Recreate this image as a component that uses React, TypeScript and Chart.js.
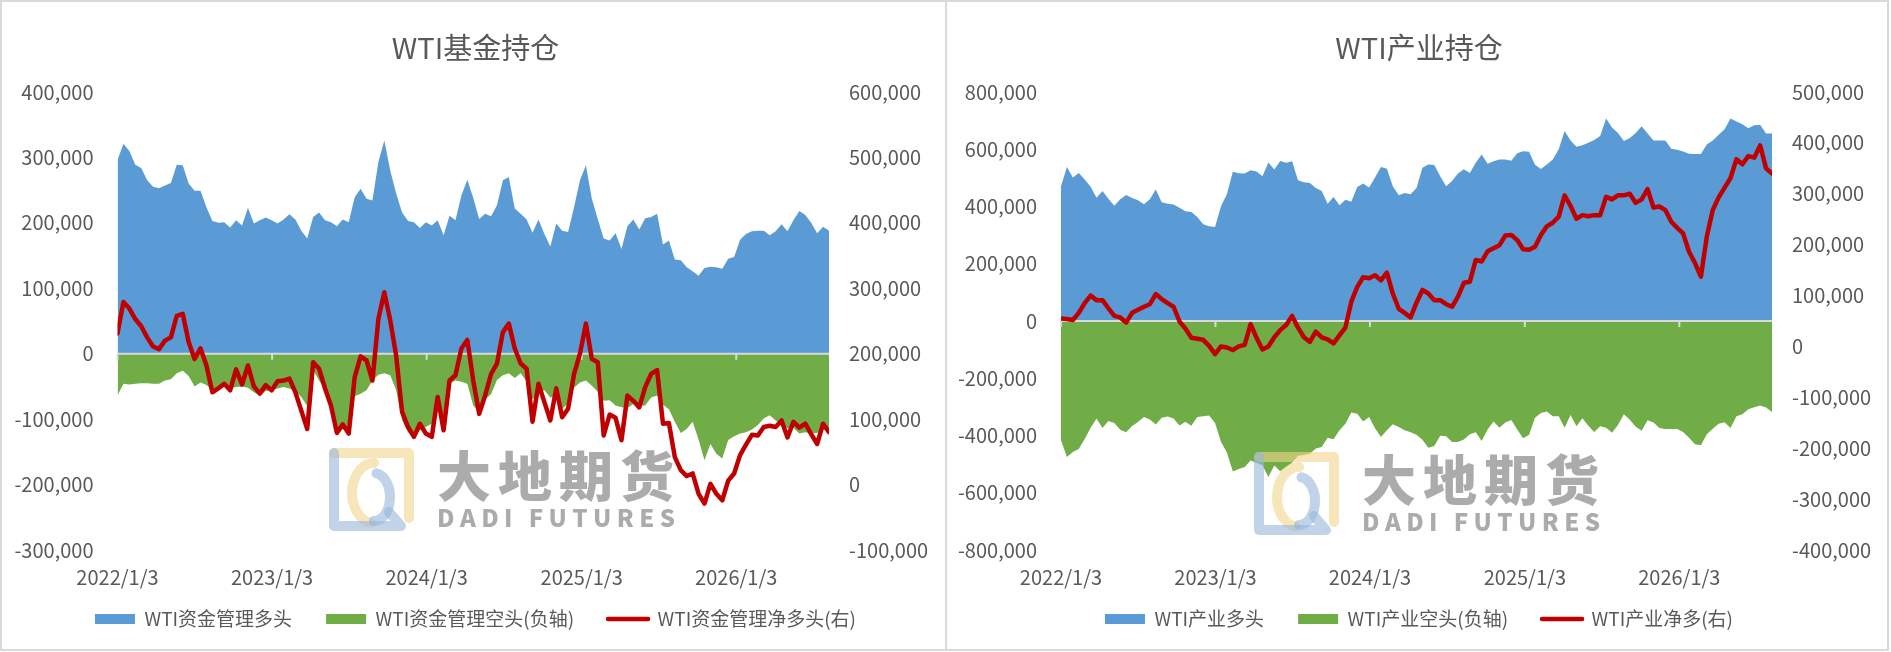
import { useEffect, useRef } from "react";
import { Chart, registerables } from "chart.js";

Chart.register(...registerables);

// 数据每两周取一个点（起点 2022/1/3），单位：千手
const stepDays = 14;

const fundLong = [
  296, 321, 310, 289, 284, 265, 255, 253, 257, 261, 289, 288, 260, 249, 249, 224, 203, 200, 201, 193,
  204, 196, 223, 199, 204, 208, 204, 199, 205, 213, 205, 188, 176, 209, 216, 204, 201, 195, 205, 201,
  239, 252, 237, 234, 293, 326, 280, 245, 216, 203, 201, 192, 201, 196, 204, 181, 211, 204, 242, 266,
  238, 206, 214, 210, 227, 265, 270, 222, 214, 205, 185, 205, 183, 164, 199, 188, 186, 224, 265, 288,
  237, 206, 176, 173, 184, 160, 195, 205, 190, 207, 209, 214, 167, 173, 144, 143, 132, 126, 119, 131,
  133, 132, 130, 145, 148, 174, 183, 187, 188, 188, 181, 187, 198, 187, 204, 218, 212, 200, 184, 194,
  188,
];
const fundShort = [
  -64, -46, -47, -46, -45, -45, -46, -46, -41, -39, -30, -26, -34, -50, -44, -48, -56, -54, -51, -53,
  -51, -50, -52, -59, -64, -57, -56, -53, -51, -53, -57, -66, -80, -25, -41, -56, -76, -117, -115, -120,
  -65, -61, -56, -41, -32, -30, -33, -56, -102, -120, -127, -117, -112, -107, -82, -95, -46, -41, -43, -46,
  -79, -89, -70, -62, -40, -33, -30, -37, -30, -42, -70, -58, -56, -67, -64, -84, -76, -52, -44, -41,
  -49, -58, -72, -71, -79, -82, -83, -77, -80, -79, -67, -64, -78, -85, -104, -121, -115, -104, -131, -163,
  -138, -153, -160, -132, -126, -122, -120, -116, -109, -99, -94, -102, -108, -114, -113, -122, -120, -122, -121, -116,
  -117,
];
const fundNet = [
  231, 279, 269, 253, 242, 225, 211, 207, 220, 225, 258, 261, 218, 192, 208, 182, 141, 147, 154, 144,
  176, 153, 182, 150, 139, 152, 144, 158, 159, 162, 141, 113, 85, 187, 177, 147, 121, 79, 92, 78,
  164, 196, 190, 159, 253, 294, 251, 197, 111, 88, 73, 93, 78, 73, 134, 83, 159, 167, 208, 221,
  159, 108, 136, 169, 185, 233, 246, 208, 185, 177, 96, 154, 126, 98, 147, 103, 116, 169, 200, 246,
  192, 187, 75, 107, 102, 68, 136, 128, 118, 149, 169, 175, 93, 94, 42, 22, 13, 17, -14, -29,
  1, -14, -24, 6, 17, 45, 61, 76, 75, 88, 90, 88, 98, 72, 96, 87, 93, 77, 62, 93,
  80,
];

const industryLong = [
  471, 538, 501, 517, 494, 469, 431, 454, 427, 403, 425, 440, 430, 422, 408, 425, 459, 415, 410, 407,
  396, 383, 381, 363, 338, 331, 328, 401, 443, 521, 516, 515, 527, 522, 506, 554, 529, 559, 553, 558,
  492, 485, 482, 465, 454, 410, 433, 404, 424, 417, 468, 480, 466, 501, 538, 532, 471, 439, 447, 443,
  465, 535, 547, 545, 506, 471, 489, 515, 530, 517, 553, 582, 549, 558, 564, 564, 560, 586, 593, 591,
  546, 531, 547, 564, 600, 664, 631, 609, 614, 623, 632, 646, 707, 676, 657, 629, 639, 657, 680, 655,
  631, 631, 631, 602, 598, 592, 584, 583, 583, 617, 631, 651, 670, 707, 697, 687, 673, 684, 686, 655,
  655,
];
const industryShort = [
  -417, -475, -458, -447, -412, -373, -341, -374, -349, -356, -380, -389, -367, -353, -335, -344, -362, -338, -334, -341,
  -365, -352, -366, -335, -333, -330, -356, -422, -459, -526, -517, -510, -487, -495, -504, -545, -505, -525, -510, -495,
  -471, -468, -464, -445, -440, -408, -413, -382, -359, -320, -324, -351, -335, -375, -405, -382, -361, -370, -382, -389,
  -397, -415, -443, -437, -401, -403, -423, -423, -414, -396, -389, -419, -379, -351, -373, -355, -346, -379, -410, -397,
  -338, -321, -316, -333, -333, -373, -328, -368, -340, -366, -388, -368, -373, -390, -363, -326, -345, -369, -383, -347,
  -355, -374, -377, -377, -377, -388, -408, -431, -434, -396, -376, -359, -354, -374, -333, -326, -308, -301, -295, -302,
  -318,
];
const industryNet = [
  55, 54, 52, 66, 85, 100, 91, 91, 75, 60, 57, 47, 66, 72, 78, 83, 103, 93, 85, 78,
  49, 35, 17, 15, 13, 1, -15, 0, -2, -7, 0, 3, 44, 17, -6, 0, 18, 32, 42, 60,
  37, 18, 9, 29, 18, 14, 6, 22, 37, 88, 117, 136, 134, 140, 130, 145, 104, 74, 66, 57,
  86, 111, 104, 91, 91, 83, 78, 98, 125, 127, 170, 167, 187, 193, 199, 218, 219, 209, 191, 190,
  196, 219, 236, 243, 255, 297, 276, 251, 258, 256, 258, 258, 294, 289, 297, 297, 300, 282, 289, 309,
  273, 275, 268, 245, 233, 222, 186, 164, 137, 216, 268, 293, 312, 331, 368, 358, 374, 371, 395, 350,
  340,
];

const dayOffsets = fundLong.map((_, i) => i * stepDays);
const yearTickDays = [0, 365, 730, 1096, 1461];
const yearTickLabels = ["2022/1/3", "2023/1/3", "2024/1/3", "2025/1/3", "2026/1/3"];

const fundLabels = ["WTI资金管理多头", "WTI资金管理空头(负轴)", "WTI资金管理净多头(右)"];
const industryLabels = ["WTI产业多头", "WTI产业空头(负轴)", "WTI产业净多(右)"];

const FONT = '"Noto Sans CJK SC", "Microsoft YaHei", sans-serif';
const TEXT = "#595959";
const BLUE = "#5b9bd5";
const GREEN = "#70ad47";
const RED = "#c00000";

const fmt = (v: number) => Number(v).toLocaleString("en-US");

const zeroLinePlugin = {
  id: "zeroLine",
  // x 轴盒子很矮，放宽它的下沿，免得年份标签被裁掉
  afterLayout(chart: any) {
    const x = chart.scales.x;
    x.bottom = x.top + 45;
  },
  afterDatasetDraw(chart: any, args: any) {
    if (args.index !== 0) return;
    const { ctx, chartArea, scales } = chart;
    const y = scales.y.getPixelForValue(0);
    ctx.save();
    ctx.strokeStyle = "#d9d9d9";
    ctx.lineWidth = 2;
    ctx.beginPath();
    ctx.moveTo(chartArea.left, y);
    ctx.lineTo(chartArea.right, y);
    for (const d of yearTickDays) {
      const x = scales.x.getPixelForValue(d);
      ctx.moveTo(x, y);
      ctx.lineTo(x, y + 6);
    }
    ctx.stroke();
    ctx.restore();
  },
};

function makeWatermark(tx: number, ty: number) {
  return {
    id: "watermark",
    afterDraw(chart: any) {
      const ctx = chart.ctx;
      ctx.save();
      // logo
      const lx = tx - 109;
      const ly = ty - 6;
      const w = 87;
      const h = 85;
      ctx.lineCap = "round";
      ctx.lineJoin = "round";
      ctx.lineWidth = 10;
      ctx.strokeStyle = "rgba(240,214,140,0.6)";
      ctx.beginPath();
      ctx.moveTo(lx + 6, ly + 6);
      ctx.lineTo(lx + w - 6, ly + 6);
      ctx.lineTo(lx + w - 6, ly + h - 14);
      ctx.stroke();
      ctx.beginPath();
      ctx.ellipse(lx + 46, ly + 46, 22, 30, 0, Math.PI * 0.55, Math.PI * 1.5);
      ctx.stroke();
      ctx.strokeStyle = "rgba(150,182,218,0.6)";
      ctx.beginPath();
      ctx.moveTo(lx + 6, ly + 6);
      ctx.lineTo(lx + 6, ly + h - 6);
      ctx.lineTo(lx + w - 14, ly + h - 6);
      ctx.lineTo(lx + w - 26, ly + h - 20);
      ctx.stroke();
      ctx.beginPath();
      ctx.ellipse(lx + 46, ly + 50, 16, 24, 0, -Math.PI * 0.45, Math.PI * 0.5);
      ctx.stroke();
      // text
      ctx.fillStyle = "rgba(120,120,120,0.62)";
      ctx.textBaseline = "middle";
      ctx.textAlign = "left";
      ctx.font = `900 54px ${FONT}`;
      const cn = "大地期货";
      for (let i = 0; i < cn.length; i++) {
        ctx.fillText(cn[i], tx + i * 61, ty + 23);
      }
      ctx.font = `900 24px ${FONT}`;
      const en = "DADI FUTURES";
      const widths = [...en].map((c) => ctx.measureText(c).width);
      const total = widths.reduce((a, b) => a + b, 0);
      const gap = (238 - total) / (en.length - 1);
      let x = tx;
      for (let i = 0; i < en.length; i++) {
        ctx.fillText(en[i], x, ty + 65);
        x += widths[i] + gap;
      }
      ctx.restore();
    },
  };
}

function makeConfig(p: any): any {
  const toPts = (arr: number[]) => arr.map((v, i) => ({ x: dayOffsets[i], y: v * 1000 }));
  const tickFont = { size: 20, family: FONT };
  const padLeft = 4;
  return {
    type: "line",
    data: {
      datasets: [
        {
          label: p.labels[0],
          data: toPts(p.long),
          backgroundColor: BLUE,
          borderColor: BLUE,
          borderWidth: 0,
          fill: "origin",
          pointRadius: 0,
          yAxisID: "y",
          order: 1,
        },
        {
          label: p.labels[1],
          data: toPts(p.short),
          backgroundColor: GREEN,
          borderColor: GREEN,
          borderWidth: 0,
          fill: "origin",
          pointRadius: 0,
          yAxisID: "y",
          order: 2,
        },
        {
          label: p.labels[2],
          data: toPts(p.net),
          borderColor: RED,
          backgroundColor: RED,
          borderWidth: 4.5,
          borderJoinStyle: "round",
          borderCapStyle: "round",
          fill: false,
          pointRadius: 0,
          yAxisID: "y1",
          order: 0,
        },
      ],
    },
    options: {
      responsive: false,
      maintainAspectRatio: false,
      animation: false,
      layout: { padding: { left: padLeft, right: 0, top: 0, bottom: 10.5 } },
      plugins: {
        tooltip: { enabled: false },
        title: {
          display: true,
          text: p.title,
          color: TEXT,
          font: { size: 29, weight: "normal", family: FONT },
          padding: { top: 28.6, bottom: 26.6 },
        },
        legend: {
          position: "bottom",
          labels: {
            usePointStyle: true,
            pointStyleWidth: 40,
            boxHeight: 10,
            padding: 34,
            color: TEXT,
            font: { size: 19, family: FONT },
            generateLabels: (chart: any) =>
              chart.data.datasets.map((ds: any, i: number) => ({
                text: ds.label,
                datasetIndex: i,
                hidden: false,
                fillStyle: i === 2 ? "rgba(0,0,0,0)" : ds.backgroundColor,
                strokeStyle: ds.borderColor,
                lineWidth: i === 2 ? 4.5 : 0,
                lineCap: "round",
                pointStyle: i === 2 ? "line" : "rect",
                fontColor: TEXT,
              })),
          },
        },
      },
      scales: {
        x: {
          type: "linear",
          min: 0,
          max: dayOffsets[dayOffsets.length - 1],
          afterBuildTicks: (s: any) => {
            s.ticks = yearTickDays.map((v) => ({ value: v }));
          },
          afterFit: (s: any) => {
            s.height = 25.5;
          },
          ticks: {
            autoSkip: false,
            maxRotation: 0,
            padding: 15,
            color: TEXT,
            font: tickFont,
            callback: (_v: any, i: number) => yearTickLabels[i],
          },
          grid: { display: false, drawTicks: false },
          border: { display: false },
        },
        y: {
          position: "left",
          min: p.left[0],
          max: p.left[1],
          afterFit: (s: any) => {
            s.width = p.leftWidth - padLeft;
          },
          ticks: { stepSize: p.left[2], padding: 24, color: TEXT, font: tickFont, callback: (v: number) => fmt(v) },
          grid: { display: false, drawTicks: false },
          border: { display: false },
        },
        y1: {
          position: "right",
          min: p.right[0],
          max: p.right[1],
          afterFit: (s: any) => {
            s.width = p.rightWidth;
          },
          ticks: { stepSize: p.right[2], padding: 20, color: TEXT, font: tickFont, callback: (v: number) => fmt(v) },
          grid: { display: false, drawTicks: false },
          border: { display: false },
        },
      },
    },
    plugins: [zeroLinePlugin, makeWatermark(p.wm[0], p.wm[1])],
  };
}

function Panel({ config, left, width }: any) {
  const ref = useRef<HTMLCanvasElement>(null);
  useEffect(() => {
    const chart = new Chart(ref.current as HTMLCanvasElement, config);
    return () => chart.destroy();
  }, []);
  return (
    <div
      style={{
        position: "absolute",
        left,
        top: 0,
        width,
        height: 651,
        boxSizing: "border-box",
        border: "2px solid #d9d9d9",
        background: "#fff",
      }}
    >
      <canvas
        ref={ref}
        width={width - 4}
        height={647}
        style={{ display: "block", width: width - 4, height: 647 }}
      />
    </div>
  );
}

export default function App() {
  const fundConfig = makeConfig({
    title: "WTI基金持仓",
    labels: fundLabels,
    long: fundLong,
    short: fundShort,
    net: fundNet,
    left: [-300000, 400000, 100000],
    right: [-100000, 600000, 100000],
    leftWidth: 115.5,
    rightWidth: 116,
    wm: [435, 451],
  });
  const industryConfig = makeConfig({
    title: "WTI产业持仓",
    labels: industryLabels,
    long: industryLong,
    short: industryShort,
    net: industryNet,
    left: [-800000, 800000, 200000],
    right: [-400000, 500000, 100000],
    leftWidth: 114,
    rightWidth: 115,
    wm: [415, 455],
  });
  return (
    <div style={{ position: "absolute", left: 0, top: 0, width: 1891, height: 652, background: "#fff" }}>
      <Panel config={fundConfig} left={0} width={947} />
      <Panel config={industryConfig} left={945} width={944} />
    </div>
  );
}
